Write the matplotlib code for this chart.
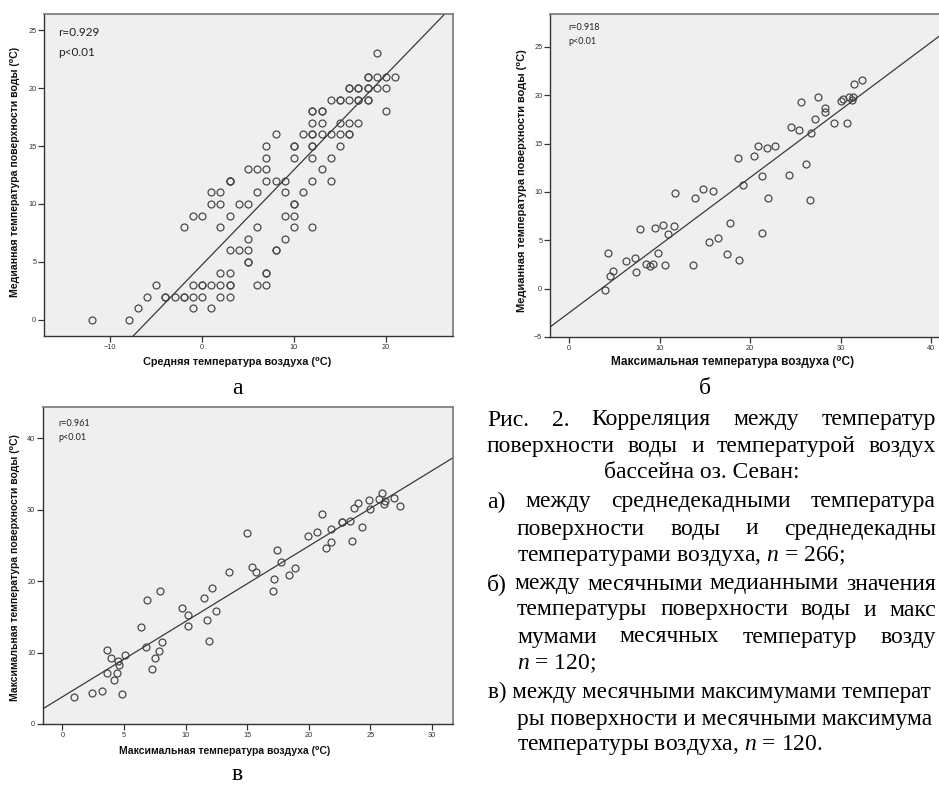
import numpy as np
import matplotlib
matplotlib.use("Agg")
from matplotlib import pyplot as plt

plt.rcParams['mathtext.fontset'] = 'custom'
plt.rcParams['mathtext.rm'] = 'Liberation Serif'
plt.rcParams['mathtext.it'] = 'Liberation Serif:italic'

# --- panel a: mean decade air temp vs median water surface temp
a_x = [19, 18, 19, 20, 21, 16, 17, 18, 19, 20, 14, 15, 16, 17, 18, 12, 13, 20,
       12, 13, 15, 16, 17, 8, 11, 12, 13, 14, 15, 16, 7, 10, 12, 15, 7, 10, 12, 14,
       5, 6, 7, 13, 3, 7, 8, 9, 12, 14, 1, 2, 6, 9, 11, 1, 2, 4, 5, 10,
       -1, 0, 3, 9, 10, -2, 2, 6, 10, 12, 5, 9, 3, 4, 5, 8, 5, 2, 3, 7,
       -5, -1, 0, 1, 2, 3, 6, 7, -6, -4, -3, -2, -1, 0, 2, 3, -7, -1, 1, -12, -8,
       # overlapping (darker) points
       18, 17, 18, 16, 15, 17, 18, 12, 13, 12, 16, 10, 12, 3, 3, 10, 8, 5, 7, 3, 0, -4, -2]
a_y = [23, 21, 21, 21, 21, 20, 20, 20, 20, 20, 19, 19, 19, 19, 19, 18, 18, 18,
       17, 17, 17, 17, 17, 16, 16, 16, 16, 16, 16, 16, 15, 15, 15, 15, 14, 14, 14, 14,
       13, 13, 13, 13, 12, 12, 12, 12, 12, 12, 11, 11, 11, 11, 11, 10, 10, 10, 10, 10,
       9, 9, 9, 9, 9, 8, 8, 8, 8, 8, 7, 7, 6, 6, 6, 6, 5, 4, 4, 4,
       3, 3, 3, 3, 3, 3, 3, 3, 2, 2, 2, 2, 2, 2, 2, 2, 1, 1, 1, 0, 0,
       21, 20, 20, 20, 19, 19, 19, 18, 18, 16, 16, 15, 15, 12, 12, 10, 6, 5, 4, 3, 3, 2, 2]
a_fit = (0.82, 4.75)  # slope, intercept

# --- panel б: monthly max air temp vs monthly median water surface temp
b_x = [32.3, 31.5, 27.5, 25.6, 30.0, 30.2, 30.9, 31.3, 31.25, 28.3, 28.2, 27.2, 29.3,
       30.7, 24.5, 25.4, 26.7, 20.9, 21.8, 22.7, 18.7, 20.4, 26.2, 24.3, 21.3, 19.2,
       11.7, 14.8, 15.9, 13.9, 22.0, 26.6, 10.4, 11.6, 7.8, 9.5, 10.9, 17.8, 21.3,
       15.4, 16.4, 4.3, 9.85, 17.4, 6.25, 7.3, 18.75, 8.5, 9.3, 8.9, 10.6, 13.7,
       7.4, 4.8, 4.5, 4.0]
b_y = [21.6, 21.2, 19.8, 19.3, 19.4, 19.6, 19.8, 19.8, 19.55, 18.7, 18.3, 17.5, 17.1,
       17.1, 16.7, 16.4, 16.1, 14.7, 14.5, 14.8, 13.5, 13.7, 12.9, 11.8, 11.6, 10.7,
       9.9, 10.3, 10.1, 9.4, 9.4, 9.2, 6.55, 6.5, 6.2, 6.3, 5.7, 6.8, 5.8,
       4.8, 5.2, 3.7, 3.7, 3.6, 2.9, 3.2, 3.0, 2.55, 2.55, 2.3, 2.4, 2.4,
       1.75, 1.8, 1.3, -0.1]
b_fit = (0.70, -2.5)

# --- panel в: monthly max air temp vs monthly max water surface temp
c_x = [25.9, 25.7, 26.2, 26.1, 26.9, 27.4, 24.9, 25.0, 24.0, 23.7, 24.3, 23.3, 22.7, 22.7,
       23.5, 21.1, 21.8, 20.7, 19.9, 21.8, 21.4, 15.0, 17.4, 17.7, 15.4, 15.7, 13.5,
       18.9, 18.4, 17.2, 17.1, 12.1, 11.5, 7.9, 6.9, 9.7, 10.2, 12.5, 11.7, 10.2,
       6.4, 11.9, 8.1, 6.8, 7.8, 7.5, 7.3, 3.65, 3.9, 4.5, 4.6, 5.1, 3.65, 4.4, 4.2,
       0.95, 2.4, 3.2, 4.85]
c_y = [32.4, 31.5, 31.2, 30.8, 31.6, 30.5, 31.4, 30.1, 31.0, 30.2, 27.6, 28.4, 28.3, 28.3,
       25.7, 29.4, 27.3, 26.9, 26.4, 25.5, 24.6, 26.7, 24.4, 22.7, 22.0, 21.3, 21.3,
       21.8, 20.8, 20.3, 18.6, 19.1, 17.7, 18.6, 17.3, 16.3, 15.3, 15.8, 14.6, 13.75,
       13.6, 11.6, 11.5, 10.8, 10.2, 9.3, 7.65, 10.4, 9.2, 8.8, 8.3, 9.65, 7.2, 7.2, 6.2,
       3.8, 4.4, 4.6, 4.2]
c_fit = (1.056, 3.81)

W, H = 939, 787
fig = plt.figure(figsize=(W / 100, H / 100), dpi=100)
renderer = fig.canvas.get_renderer()


def px_axes(l, t, r, b):
    return fig.add_axes([l / W, 1 - b / H, (r - l) / W, (b - t) / H])


def fx(x):
    return x / W


def fy(y):
    return 1 - y / H


def spss_panel(ax, xs, ys, fit, xlim, ylim, xticks, yticks, tsize):
    ax.set_facecolor('#efefef')
    ax.plot(xs, ys, 'o', mfc='none', mec='#4a4a4a', ms=5, mew=0.9, ls='none')
    ax.axline((0, fit[1]), slope=fit[0], color='#3a3a3a', lw=0.9)
    ax.set_xlim(*xlim)
    ax.set_ylim(*ylim)
    ax.set_xticks(xticks)
    ax.set_yticks(yticks)
    ax.tick_params(length=4, width=0.9, color='#333333', labelsize=tsize,
                   labelcolor='#333333', pad=1.5)
    for lab in ax.get_xticklabels() + ax.get_yticklabels():
        lab.set_fontfamily('Liberation Sans')
    for s in ['top', 'right']:
        ax.spines[s].set_color('#777777')
        ax.spines[s].set_linewidth(1.2)
    for s in ['left', 'bottom']:
        ax.spines[s].set_color('#333333')
        ax.spines[s].set_linewidth(1.0)


ax1 = px_axes(44, 14, 453, 336)
spss_panel(ax1, a_x, a_y, a_fit, (-17.2, 27.3), (-1.4, 26.4),
           [-10, 0, 10, 20], [0, 5, 10, 15, 20, 25], 5.3)
ax2 = px_axes(550, 14, 945, 337)
spss_panel(ax2, b_x, b_y, b_fit, (-2.1, 41.5), (-5, 28.4),
           [0, 10, 20, 30, 40], [-5, 0, 5, 10, 15, 20, 25], 5.3)
ax3 = px_axes(43, 407, 453, 724)
spss_panel(ax3, c_x, c_y, c_fit, (-1.58, 31.7), (0, 44.4),
           [0, 5, 10, 15, 20, 25, 30], [0, 10, 20, 30, 40], 5.3)

# stats text
lab_font = dict(family=['Liberation Sans', 'DejaVu Sans'], weight='bold', color='#111111')
stat_font = dict(family='Lato', color='#222222')
fig.text(fx(58), fy(33), 'r=0.929', fontsize=8.5, va='center', **stat_font)
fig.text(fx(58), fy(52), 'p<0.01', fontsize=8.5, va='center', **stat_font)
fig.text(fx(568), fy(28), 'r=0.918', fontsize=6.5, va='center', **stat_font)
fig.text(fx(568), fy(41), 'p<0.01', fontsize=6.5, va='center', **stat_font)
fig.text(fx(58), fy(423), 'r=0.961', fontsize=6.5, va='center', **stat_font)
fig.text(fx(58), fy(437), 'p<0.01', fontsize=6.5, va='center', **stat_font)

# axis titles
fig.text(fx(15), fy(172), 'Медианная температура поверхности воды (⁰С)', rotation=90,
         fontsize=7.6, ha='center', va='center', **lab_font)
fig.text(fx(237), fy(362), 'Средняя температура воздуха (⁰С)',
         fontsize=7.8, ha='center', va='center', **lab_font)
fig.text(fx(522), fy(181), 'Медианная температура поверхности воды (⁰С)', rotation=90,
         fontsize=7.9, ha='center', va='center', **lab_font)
fig.text(fx(733), fy(362), 'Максимальная температура воздуха (⁰С)',
         fontsize=8.6, ha='center', va='center', **lab_font)
fig.text(fx(15), fy(568), 'Максимальная температура поверхности воды (⁰С)', rotation=90,
         fontsize=7.5, ha='center', va='center', **lab_font)
fig.text(fx(225), fy(751), 'Максимальная температура воздуха (⁰С)',
         fontsize=7.5, ha='center', va='center', **lab_font)

# panel letters
FS = 17
serif = dict(family='Liberation Serif', color='black')
fig.text(fx(237), fy(389), 'а', fontsize=FS, ha='center', va='center', **serif)
fig.text(fx(705), fy(388), 'б', fontsize=FS, ha='center', va='center', **serif)
fig.text(fx(237), fy(775), 'в', fontsize=FS, ha='center', va='center', **serif)


def justified(y, x0, x1, words):
    # spread words so the line runs from x0 to x1 at the page edge
    texts = [fig.text(0, fy(y), w, fontsize=FS, ha='left', va='center', **serif) for w in words]
    widths = [t.get_window_extent(renderer).width for t in texts]
    gap = (x1 - x0 - sum(widths)) / (len(words) - 1)
    x = x0
    for t, w in zip(texts, widths):
        t.set_x(fx(x))
        x += w + gap


def plain(y, x0, s, ha='left', size=FS):
    fig.text(fx(x0), fy(y), s, fontsize=size, ha=ha, va='center', **serif)


R = 936
justified(420, 487, R, ['Рис.', '2.', 'Корреляция', 'между', 'температур'])
justified(447, 487, R, ['поверхности', 'воды', 'и', 'температурой', 'воздух'])
plain(472, 702, 'бассейна оз. Севан:', ha='center')
justified(502, 487, R, ['а)', 'между', 'среднедекадными', 'температура'])
justified(529, 517, R, ['поверхности', 'воды', 'и', 'среднедекадны'])
plain(556, 517, 'температурами воздуха, $n$ = 266;')
justified(584, 487, R, ['б)', 'между', 'месячными', 'медианными', 'значения'])
justified(610, 517, R, ['температуры', 'поверхности', 'воды', 'и', 'макс'])
justified(637, 517, R, ['мумами', 'месячных', 'температур', 'возду'])
plain(664, 517, '$n$ = 120;')
plain(692, 488, 'в) между месячными максимумами температ', size=16.6)
plain(719, 517, 'ры поверхности и месячными максимума', size=16.8)
plain(745, 517, 'температуры воздуха, $n$ = 120.')

fig.savefig('out.png', dpi=100)
